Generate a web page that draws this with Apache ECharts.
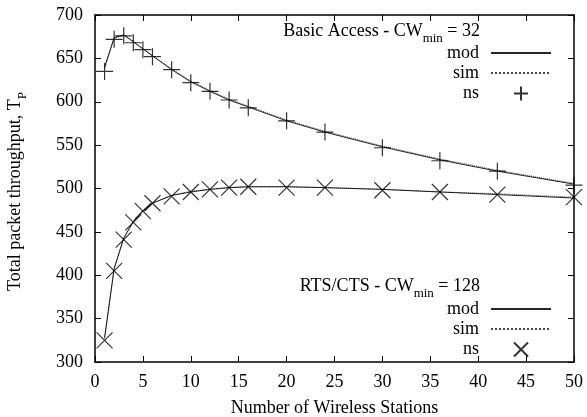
<!DOCTYPE html>
<html>
<head>
<meta charset="utf-8">
<script src="https://cdn.jsdelivr.net/npm/echarts@6/dist/echarts.min.js"></script>
<style>
  html, body { margin: 0; padding: 0; background: #fff; }
  #chart { width: 587px; height: 417px; }
</style>
</head>
<body>
<div id="chart"></div>
<script>
// Number of wireless stations
const stations = [1, 2, 3, 4, 5, 6, 8, 10, 12, 14, 16, 20, 24, 30, 36, 42, 50];

// Basic access, CWmin = 32
const basicMod = [640, 674, 677, 669, 661, 653, 637, 623, 612, 602, 594, 578, 565, 548, 533, 520, 505];
const basicSim = [638, 673, 677, 670, 661, 653, 638, 624, 613, 603, 595, 579, 566, 549, 534, 521, 506];
const basicNs  = [635, 672, 676, 668, 660, 652, 637, 622, 612, 602, 593, 578, 565, 547, 532, 520, 504];

// RTS/CTS, CWmin = 128
const rtsMod = [328, 408, 443, 462, 474, 483, 492, 496, 499, 501, 502, 502, 501, 499, 496, 493, 489];
const rtsSim = [327, 407, 442, 462, 475, 483, 492, 497, 499, 501, 502, 502, 501, 499, 496, 494, 490];
const rtsNs  = [325, 405, 441, 461, 474, 483, 491, 496, 499, 501, 502, 501, 501, 498, 496, 493, 490];

const xTicks = { min: 0, max: 50, interval: 5 };
const yTicks = { min: 300, max: 700, interval: 50 };

const pairs = (ys) => stations.map((x, i) => [x, ys[i]]);

const FONT = '"Liberation Serif", "Times New Roman", serif';
const FS = 18;
const plusPath = 'path://M0,10L20,10M10,0L10,20';
const crossPath = 'path://M0,0L20,20M20,0L0,20';

const chart = echarts.init(document.getElementById('chart'), null, { renderer: 'canvas' });

const lineSeries = (name, data, type) => ({
  name, type: 'line', data, symbol: 'none', smooth: false,
  xAxisIndex: 0, yAxisIndex: 0,
  lineStyle: { color: '#000', width: 1, type, opacity: type === 'solid' ? 0.85 : 0.7 },
  itemStyle: { color: '#000' },
  animation: false, z: 3
});
const markSeries = (name, data, path, size) => ({
  name, type: 'scatter', data, symbol: path, symbolSize: size, symbolKeepAspect: true,
  xAxisIndex: 0, yAxisIndex: 0,
  itemStyle: { color: 'none', borderColor: '#000', borderWidth: 1.2 },
  animation: false, z: 4
});

const legendBase = {
  orient: 'vertical', align: 'right', right: 30,
  itemWidth: 60, itemHeight: 14, itemGap: 2,
  formatter: (n) => n.split(' ')[1],
  textStyle: { fontFamily: FONT, fontSize: FS, lineHeight: 18, color: '#000', padding: [0, 7, 0, 0] },
  inactiveColor: '#000', selectedMode: false
};
const lineItem = (name) => ({ name, itemStyle: { opacity: 0 } });

const subText = (txt, sub, rest) => ({
  text: '{n|' + txt + '}{s|' + sub + '}' + (rest ? '{n|' + rest + '}' : ''),
  fill: '#000',
  rich: {
    n: { fontFamily: FONT, fontSize: FS, fill: '#000', verticalAlign: 'bottom' },
    s: { fontFamily: FONT, fontSize: 13, fill: '#000', verticalAlign: 'bottom', padding: [0, 0, -5, 0] }
  }
});

chart.setOption({
  animation: false,
  backgroundColor: '#fff',
  grid: { left: 95, right: 13, top: 15, bottom: 55, containLabel: false, outerBoundsMode: 'none' },
  xAxis: [
    {
      type: 'value', min: xTicks.min, max: xTicks.max, interval: xTicks.interval,
      name: 'Number of Wireless Stations', nameLocation: 'middle', nameGap: 37,
      nameTextStyle: { fontFamily: FONT, fontSize: FS, color: '#000' },
      axisLine: { show: true, onZero: false, lineStyle: { color: '#000', width: 1.5 } },
      axisTick: { inside: true, length: 6, lineStyle: { color: '#000' } },
      axisLabel: { fontFamily: FONT, fontSize: FS, color: '#000', margin: 11 },
      splitLine: { show: false }
    },
    {
      type: 'value', position: 'top', min: xTicks.min, max: xTicks.max, interval: xTicks.interval,
      axisLine: { show: true, onZero: false, lineStyle: { color: '#000', width: 1.5 } },
      axisTick: { inside: true, length: 6, lineStyle: { color: '#000' } },
      axisLabel: { show: false }, splitLine: { show: false }
    }
  ],
  yAxis: [
    {
      type: 'value', min: yTicks.min, max: yTicks.max, interval: yTicks.interval,
      axisLine: { show: true, onZero: false, lineStyle: { color: '#000', width: 1.5 } },
      axisTick: { inside: true, length: 6, lineStyle: { color: '#000' } },
      axisLabel: { fontFamily: FONT, fontSize: FS, color: '#000', margin: 12 },
      splitLine: { show: false }
    },
    {
      type: 'value', position: 'right', min: yTicks.min, max: yTicks.max, interval: yTicks.interval,
      axisLine: { show: true, onZero: false, lineStyle: { color: '#000', width: 1.5 } },
      axisTick: { inside: true, length: 6, lineStyle: { color: '#000' } },
      axisLabel: { show: false }, splitLine: { show: false }
    }
  ],
  legend: [
    Object.assign({}, legendBase, { top: 39, data: [lineItem('basic mod'), lineItem('basic sim'), 'basic ns'] }),
    Object.assign({}, legendBase, { top: 295, data: [lineItem('rts mod'), lineItem('rts sim'), 'rts ns'] })
  ],
  graphic: [
    { type: 'text', right: 107, top: 22, style: subText('Basic Access - CW', 'min', ' = 32') },
    { type: 'text', right: 107, top: 277, style: subText('RTS/CTS - CW', 'min', ' = 128') },
    { type: 'text', left: 6, top: 92, rotation: Math.PI / 2, style: subText('Total packet throughput, T', 'P') }
  ],
  series: [
    lineSeries('basic mod', pairs(basicMod), 'solid'),
    lineSeries('basic sim', pairs(basicSim), 'dotted'),
    markSeries('basic ns', pairs(basicNs), plusPath, 17),
    lineSeries('rts mod', pairs(rtsMod), 'solid'),
    lineSeries('rts sim', pairs(rtsSim), 'dotted'),
    markSeries('rts ns', pairs(rtsNs), crossPath, 16)
  ]
});
</script>
</body>
</html>
